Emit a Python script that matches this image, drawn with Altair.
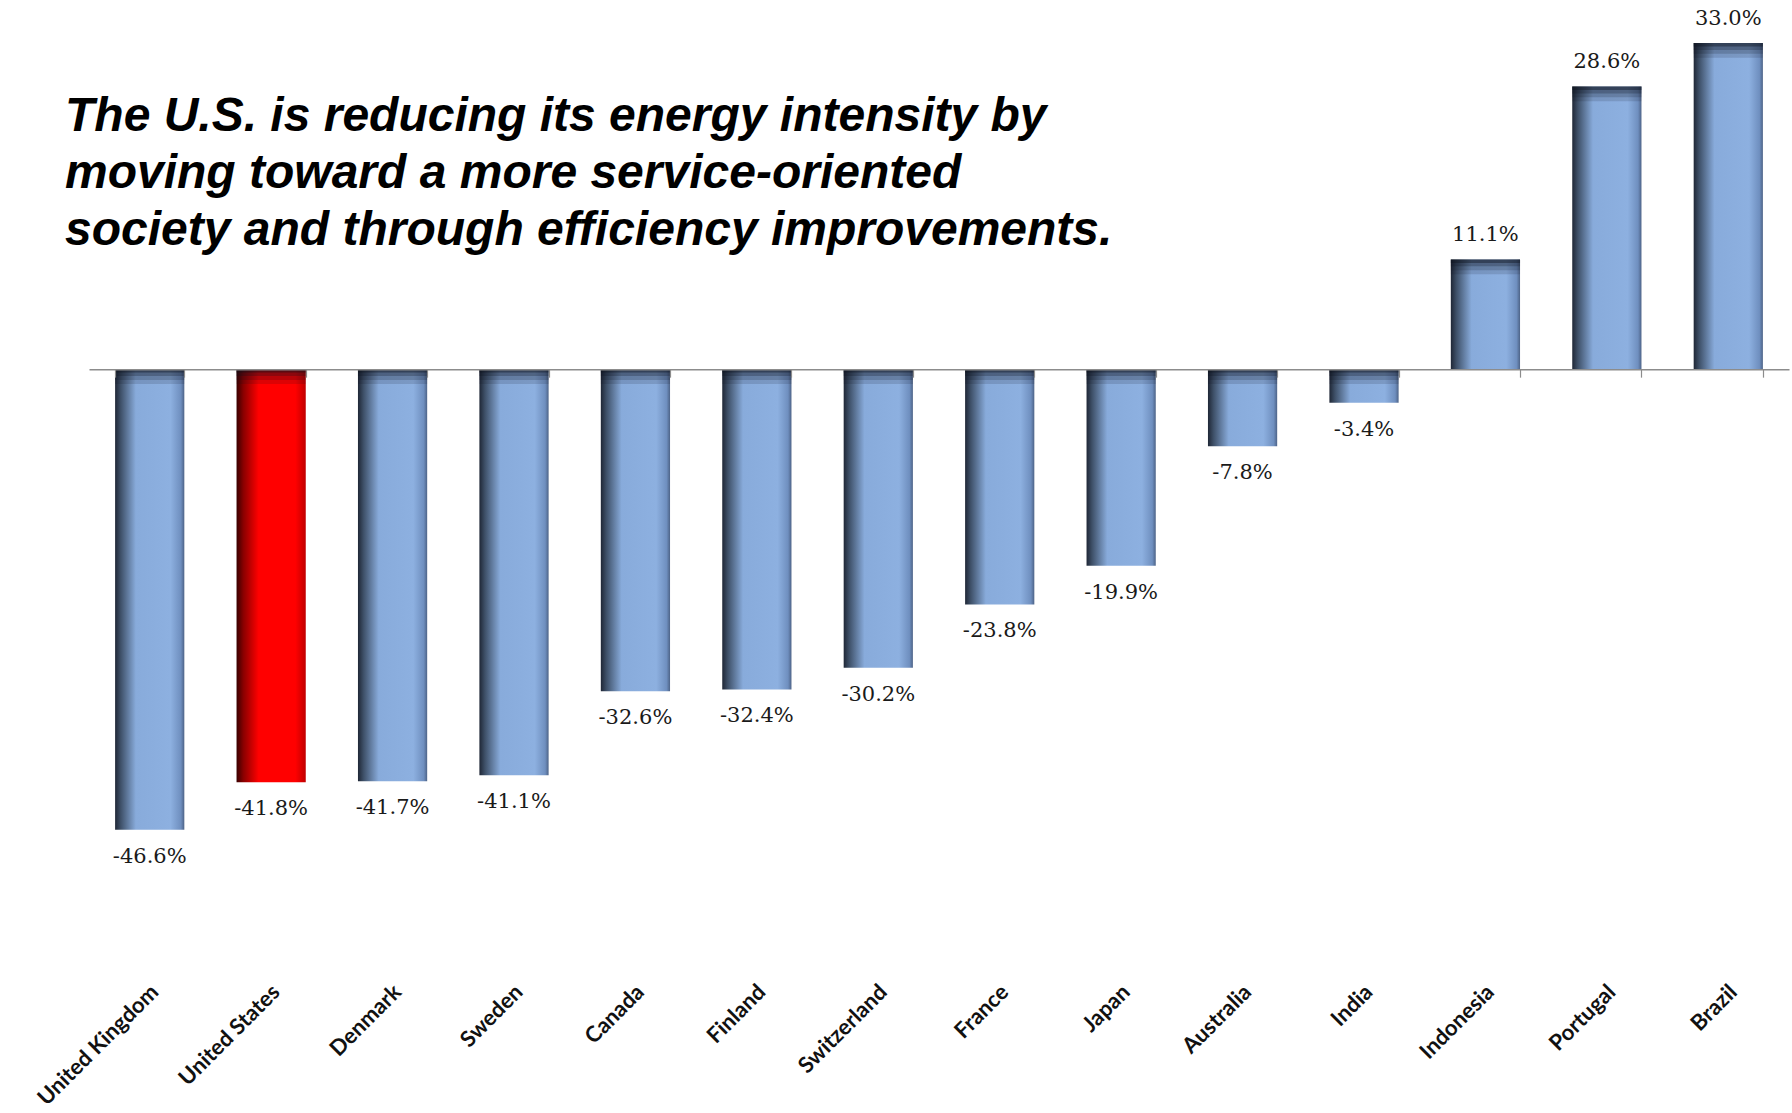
import altair as alt
import pandas as pd

# Change in energy intensity by country (percent)
countries = [
    "United Kingdom", "United States", "Denmark", "Sweden", "Canada", "Finland",
    "Switzerland", "France", "Japan", "Australia", "India", "Indonesia",
    "Portugal", "Brazil",
]
changes = [-46.6, -41.8, -41.7, -41.1, -32.6, -32.4, -30.2, -23.8, -19.9, -7.8,
           -3.4, 11.1, 28.6, 33.0]
highlight = "United States"
headline = [
    "The U.S. is reducing its energy intensity by",
    "moving toward a more service-oriented",
    "society and through efficiency improvements.",
]

df = pd.DataFrame({"country": countries, "change": changes})
df["label"] = [f"{v:.1f}%" for v in changes]
df["us"] = df["country"] == highlight

Y_MIN, Y_MAX = -61.5, 33.0
W, H = 1700, 934
ZERO_PX = H * Y_MAX / (Y_MAX - Y_MIN)

blue_fill = {
    "gradient": "linear", "x1": 0, "y1": 0, "x2": 1, "y2": 0,
    "stops": [
        {"offset": 0.0, "color": "#1f2736"},
        {"offset": 0.08, "color": "#3e5068"},
        {"offset": 0.30, "color": "#88abdb"},
        {"offset": 0.80, "color": "#8db0e0"},
        {"offset": 0.95, "color": "#6f8fbf"},
        {"offset": 1.0, "color": "#4d6387"},
    ],
}
red_fill = {
    "gradient": "linear", "x1": 0, "y1": 0, "x2": 1, "y2": 0,
    "stops": [
        {"offset": 0.0, "color": "#3a0000"},
        {"offset": 0.10, "color": "#8a0000"},
        {"offset": 0.32, "color": "#ff0000"},
        {"offset": 0.85, "color": "#ff0000"},
        {"offset": 1.0, "color": "#c00000"},
    ],
}

x_band = alt.Scale(domain=countries, paddingInner=0.43, paddingOuter=0.215)
y_scale = alt.Scale(domain=[Y_MIN, Y_MAX], nice=False, zero=False)

base = alt.Chart(df)

label_axis = alt.Axis(
    title=None, labelAngle=-45, domain=False, ticks=False, grid=False,
    labelFont="Lato", labelFontWeight="bold", labelFontSize=22,
    labelColor="#111111", labelPadding=4, labelOffset=-2,
)
# baseline at zero with tick marks on the band boundaries
zero_axis = alt.Axis(
    title=None, orient="bottom", offset=-(H - ZERO_PX), labels=False, grid=False,
    domain=True, domainColor="#8c8c8c", domainWidth=1.5,
    ticks=True, tickBand="extent", tickSize=8, tickColor="#8c8c8c", tickWidth=1.2,
)

blue_bars = base.transform_filter("!datum.us").mark_bar(fill=blue_fill).encode(
    x=alt.X("country:N", sort=countries, scale=x_band, axis=label_axis),
    y=alt.Y("change:Q", scale=y_scale, axis=None),
    y2=alt.datum(0),
)
red_bars = base.transform_filter("datum.us").mark_bar(fill=red_fill).encode(
    x=alt.X("country:N", sort=countries, scale=x_band, axis=None),
    y=alt.Y("change:Q", scale=y_scale, axis=None),
    y2=alt.datum(0),
)


def top_shadow(depth, opacity, with_axis=False):
    """Thin dark band hugging the upper edge of each bar."""
    return base.transform_calculate(
        s_top="datum.change > 0 ? datum.change : 0",
    ).transform_calculate(
        s_bot=f"datum.s_top - {depth}",
    ).mark_rect(color="#0c111c", opacity=opacity).encode(
        x=alt.X("country:N", sort=countries, scale=x_band,
                axis=zero_axis if with_axis else None),
        y=alt.Y("s_top:Q", scale=y_scale, axis=None),
        y2=alt.Y2("s_bot:Q"),
    )


shade_layers = [
    top_shadow(1.5, 0.14, with_axis=True),
    top_shadow(1.1, 0.18),
    top_shadow(0.7, 0.25),
    top_shadow(0.35, 0.4),
]

text_style = dict(font="DejaVu Serif", fontSize=21, color="#1a1a1a", baseline="middle")
pos_labels = base.transform_filter("datum.change >= 0").mark_text(dy=-24, **text_style).encode(
    x=alt.X("country:N", sort=countries, scale=x_band, axis=None),
    y=alt.Y("change:Q", scale=y_scale, axis=None),
    text="label:N",
)
neg_labels = base.transform_filter("datum.change < 0").mark_text(dy=27, **text_style).encode(
    x=alt.X("country:N", sort=countries, scale=x_band, axis=None),
    y=alt.Y("change:Q", scale=y_scale, axis=None),
    text="label:N",
)

headline_text = alt.Chart(pd.DataFrame({"k": [0]})).mark_text(
    font="Liberation Sans", fontSize=48, fontWeight="bold", fontStyle="italic",
    align="left", baseline="alphabetic", lineHeight=57, color="#000000",
).encode(
    x=alt.value(-24),
    y=alt.value(88),
    text=alt.value(headline),
)

chart = alt.layer(
    blue_bars, red_bars, *shade_layers, pos_labels, neg_labels, headline_text
).resolve_axis(x="independent").properties(
    width=W, height=H,
    autosize=alt.AutoSizeParams(type="none"),
    padding={"left": 89, "top": 43, "right": 3, "bottom": 136},
    background="white",
).configure_view(stroke=None)

chart.save("out.html", embed_options={"renderer": "svg", "actions": False})
